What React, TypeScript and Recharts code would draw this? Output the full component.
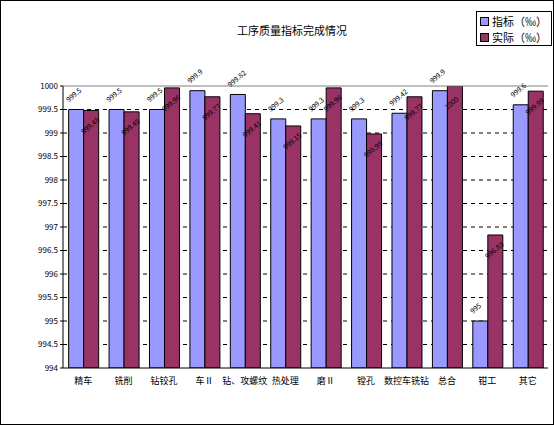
import React from "react";
import { Bar, BarChart, CartesianGrid, LabelList, ReferenceLine, XAxis, YAxis } from "recharts";

const categories = ["精车", "铣削", "钻铰孔", "车Ⅱ", "钻、攻螺纹", "热处理", "磨Ⅱ", "镗孔", "数控车铣钻", "总合", "钳工", "其它"];
const targetValues = [999.5, 999.5, 999.5, 999.9, 999.82, 999.3, 999.3, 999.3, 999.42, 999.9, 995.0, 999.6];
const actualValues = [999.48, 999.45, 999.96, 999.77, 999.41, 999.15, 999.96, 998.98, 999.77, 1000.0, 996.83, 999.89];
const yTicks = [994, 994.5, 995, 995.5, 996, 996.5, 997, 997.5, 998, 998.5, 999, 999.5, 1000];

const seriesNames = { target: "指标（‰）", actual: "实际（‰）" };
const colors = { target: "#9999FF", actual: "#993366" };

const data = categories.map((name, i) => ({ name, target: targetValues[i], actual: actualValues[i] }));

const font = "'Noto Sans CJK SC', 'Noto Sans', sans-serif";

const slantLabel = (dy: number) => (props: any) => {
  const { x, y, value } = props;
  const ly = y + dy;
  return (
    <text x={x} y={ly} transform={`rotate(-40 ${x} ${ly})`} fontSize={7} fontFamily={font} fill="#000">
      {value}
    </text>
  );
};

function LegendBox() {
  return (
    <div style={{ position: "absolute", left: 476, top: 11, width: 76, height: 35, border: "1px solid #000", background: "#fff", padding: "1px 0 0 3px", boxSizing: "border-box", fontFamily: font, fontSize: 11, lineHeight: "16px" }}>
      {(["target", "actual"] as const).map((k) => (
        <div key={k} style={{ display: "flex", alignItems: "center", whiteSpace: "nowrap" }}>
          <span style={{ display: "inline-block", width: 7, height: 7, background: colors[k], border: "1px solid #000", marginRight: 3 }} />
          {seriesNames[k]}
        </div>
      ))}
    </div>
  );
}

export default function App() {
  return (
    <div style={{ position: "absolute", left: 0, top: 0, width: 554, height: 425, background: "#fff" }}>
      <div style={{ position: "absolute", left: 0, top: 22, width: 584, textAlign: "center", fontFamily: font, fontSize: 11 }}>
        工序质量指标完成情况
      </div>
      <BarChart width={554} height={425} data={data} margin={{ top: 86, right: 6, bottom: 27, left: 0 }} barGap={0} barCategoryGap="14%">
        <CartesianGrid
          vertical={false}
          stroke="#000"
          strokeDasharray="4 4"
          horizontalValues={yTicks.slice(1, -1)}
        />
        <XAxis
          dataKey="name"
          height={30}
          stroke="#000"
          tickLine={false}
          interval={0}
          tick={{ fontSize: 9, fontFamily: font, fill: "#000" }}
          tickMargin={4}
        />
        <YAxis
          width={63}
          domain={[994, 1000]}
          ticks={yTicks}
          stroke="#000"
          tickSize={3}
          tick={{ fontSize: 8, fontFamily: font, fill: "#000" }}
          allowDataOverflow
        />
        <YAxis yAxisId="r" orientation="right" width={0} domain={[994, 1000]} tick={false} tickLine={false} stroke="#808080" />
        <ReferenceLine y={1000} stroke="#808080" />
        <Bar dataKey="target" name={seriesNames.target} fill={colors.target} stroke="#000" strokeWidth={1} isAnimationActive={false}>
          <LabelList dataKey="target" content={slantLabel(-7)} />
        </Bar>
        <Bar dataKey="actual" name={seriesNames.actual} fill={colors.actual} stroke="#000" strokeWidth={1} isAnimationActive={false}>
          <LabelList dataKey="actual" content={slantLabel(24)} />
        </Bar>
      </BarChart>
      <LegendBox />
      <div style={{ position: "absolute", left: 0, top: 0, width: 554, height: 425, border: "1px solid #000", boxSizing: "border-box", pointerEvents: "none" }} />
    </div>
  );
}
